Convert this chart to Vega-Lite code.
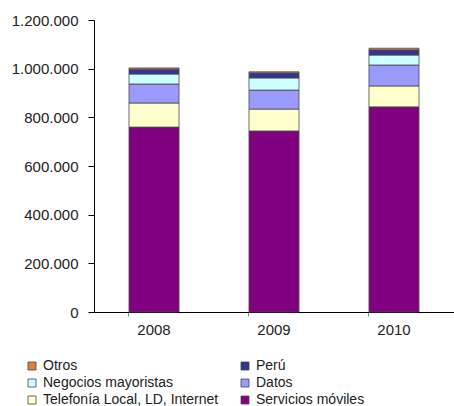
{
  "$schema": "https://vega.github.io/schema/vega-lite/v6.json",
  "autosize": "none",
  "padding": {"left": 94, "top": 20, "right": 0, "bottom": 94},
  "width": 360,
  "height": 292,
  "config": {
    "locale": {"number": {"decimal": ",", "thousands": ".", "grouping": [3], "currency": ["", " €"]}},
    "view": {"stroke": null},
    "font": "Liberation Sans"
  },
  "data": {
    "values": [
      {"anio": "2008", "segmento": "Servicios móviles", "orden": 1, "valor": 760000},
      {"anio": "2008", "segmento": "Telefonía Local, LD, Internet", "orden": 2, "valor": 99000},
      {"anio": "2008", "segmento": "Datos", "orden": 3, "valor": 78000},
      {"anio": "2008", "segmento": "Negocios mayoristas", "orden": 4, "valor": 41000},
      {"anio": "2008", "segmento": "Perú", "orden": 5, "valor": 20000},
      {"anio": "2008", "segmento": "Otros", "orden": 6, "valor": 5000},
      {"anio": "2009", "segmento": "Servicios móviles", "orden": 1, "valor": 744000},
      {"anio": "2009", "segmento": "Telefonía Local, LD, Internet", "orden": 2, "valor": 90000},
      {"anio": "2009", "segmento": "Datos", "orden": 3, "valor": 78000},
      {"anio": "2009", "segmento": "Negocios mayoristas", "orden": 4, "valor": 50000},
      {"anio": "2009", "segmento": "Perú", "orden": 5, "valor": 20000},
      {"anio": "2009", "segmento": "Otros", "orden": 6, "valor": 5000},
      {"anio": "2010", "segmento": "Servicios móviles", "orden": 1, "valor": 843000},
      {"anio": "2010", "segmento": "Telefonía Local, LD, Internet", "orden": 2, "valor": 86000},
      {"anio": "2010", "segmento": "Datos", "orden": 3, "valor": 86000},
      {"anio": "2010", "segmento": "Negocios mayoristas", "orden": 4, "valor": 41000},
      {"anio": "2010", "segmento": "Perú", "orden": 5, "valor": 21000},
      {"anio": "2010", "segmento": "Otros", "orden": 6, "valor": 7000}
    ]
  },
  "mark": {"type": "bar", "stroke": "#4a4a4a", "strokeWidth": 0.8},
  "encoding": {
    "x": {
      "field": "anio", "type": "nominal",
      "scale": {"paddingInner": 0.583, "paddingOuter": 0.2917},
      "axis": {
        "title": null, "labelAngle": 0, "bandPosition": 0,
        "domainColor": "#000", "domainWidth": 1,
        "tickColor": "#888", "tickSize": 4,
        "labelFontSize": 15, "labelColor": "#222", "labelPadding": 6,
        "labelFont": "Liberation Sans"
      }
    },
    "y": {
      "field": "valor", "type": "quantitative", "aggregate": "sum",
      "stack": "zero",
      "scale": {"domain": [0, 1200000], "nice": false},
      "axis": {
        "title": null, "values": [0, 200000, 400000, 600000, 800000, 1000000, 1200000],
        "format": ",d", "grid": false,
        "domainColor": "#000", "tickColor": "#000", "tickSize": 6,
        "labelFontSize": 15, "labelColor": "#222", "labelPadding": 10,
        "labelFont": "Liberation Sans"
      }
    },
    "color": {
      "field": "segmento", "type": "nominal",
      "scale": {
        "domain": ["Otros", "Perú", "Negocios mayoristas", "Datos", "Telefonía Local, LD, Internet", "Servicios móviles"],
        "range": ["#E0803A", "#333399", "#CCFFFF", "#9999FF", "#FFFFCC", "#800080"]
      },
      "legend": {
        "title": null, "orient": "none", "legendX": -69, "legendY": 339,
        "direction": "horizontal", "columns": 2, "columnPadding": 19, "rowPadding": 3,
        "symbolType": "square", "symbolSize": 64, "symbolStrokeColor": "#444", "symbolStrokeWidth": 0.8,
        "labelFontSize": 14, "labelColor": "#222", "labelOffset": 4, "labelLimit": 300,
        "labelFont": "Liberation Sans", "gridAlign": "all"
      }
    },
    "order": {"field": "orden", "type": "quantitative", "aggregate": "min"}
  }
}
